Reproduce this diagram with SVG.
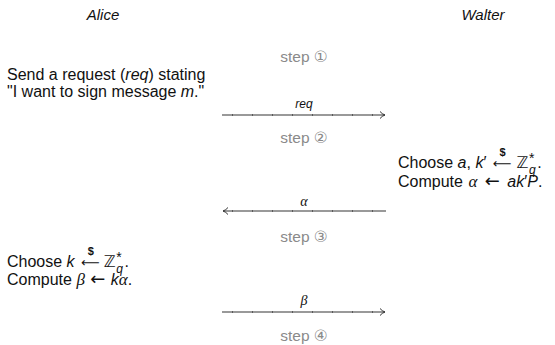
<svg xmlns="http://www.w3.org/2000/svg" width="555" height="345" viewBox="0 0 555 345">
<defs>
<style>
text{font-family:"Liberation Sans","DejaVu Sans",sans-serif;font-size:16px;fill:#111}
.name{font-size:15px;font-style:italic;text-anchor:middle}
.it{font-style:italic}
.gr{font-family:"Liberation Serif","DejaVu Serif",serif;font-style:italic;font-size:17px}
.arr{font-family:"DejaVu Sans",sans-serif;font-size:18px}
.arr2{font-family:"DejaVu Sans",sans-serif;font-size:13px}
.step{fill:#8a8a8a;text-anchor:middle;font-size:15.5px}
.lbl{font-size:12px;text-anchor:middle;font-style:italic}
.msg{stroke:#777;stroke-width:1.3;fill:none}
.tick{stroke:#444;stroke-width:1.3;stroke-dasharray:1 19;fill:none}
.sup{font-size:14px}
.sub{font-size:12px;font-style:italic}
.dol{font-size:11px;font-weight:bold}
</style>
<marker id="ah" markerWidth="10" markerHeight="10" refX="7" refY="5" orient="auto" markerUnits="userSpaceOnUse">
<path d="M2,1.5 Q4,4 7,5 Q4,6 2,8.5" fill="none" stroke="#333" stroke-width="1"/>
</marker>
</defs>
<g id="alice"><text class="name" x="103" y="20">Alice</text></g>
<g id="walter"><text class="name" x="483" y="20">Walter</text></g>
<g id="steps">
<text class="step" x="304" y="62">step ①</text>
<text class="step" x="304" y="143">step ②</text>
<text class="step" x="304" y="242">step ③</text>
<text class="step" x="304" y="341">step ④</text>
</g>
<g id="alice-step1">
<text x="7" y="80">Send a request (<tspan class="it">req</tspan>) stating</text>
<text x="7" y="97">"I want to sign message <tspan class="it">m</tspan>."</text>
</g>
<g id="walter-step2">
<text x="398" y="168">Choose <tspan class="it">a</tspan>, <tspan class="it">k</tspan>′ <tspan class="arr2" dx="2">⟵</tspan><tspan class="dol" dx="-12" dy="-12">$</tspan><tspan dx="11" dy="12">ℤ</tspan><tspan class="sup" dx="0.5" dy="-5">*</tspan><tspan class="sub" dx="-5.4" dy="11">q</tspan><tspan dx="1.5" dy="-6">.</tspan></text>
<text x="398" y="187">Compute <tspan class="gr" dx="1">α</tspan> <tspan class="arr" dx="3">←</tspan> <tspan class="it" dx="3">ak</tspan>′<tspan class="it">P</tspan>.</text>
</g>
<g id="alice-step3">
<text x="7" y="267">Choose <tspan class="it">k</tspan> <tspan class="arr2" dx="2">⟵</tspan><tspan class="dol" dx="-12" dy="-12">$</tspan><tspan dx="10" dy="12">ℤ</tspan><tspan class="sup" dx="0.5" dy="-5">*</tspan><tspan class="sub" dx="-5.4" dy="11">q</tspan><tspan dx="1.5" dy="-6">.</tspan></text>
<text x="7" y="285">Compute <tspan class="gr">β</tspan> <tspan class="arr" dx="1">←</tspan> <tspan class="it" dx="1">k</tspan><tspan class="gr">α</tspan>.</text>
</g>
<g id="connectors">
<text class="lbl" x="304" y="108">req</text>
<line class="msg" x1="222" y1="115" x2="385" y2="115" marker-end="url(#ah)"/>
<line class="tick" x1="232" y1="115" x2="380" y2="115"/>
<text class="lbl gr" x="304" y="206" style="font-size:14px">α</text>
<line class="msg" x1="386" y1="211" x2="223" y2="211" marker-end="url(#ah)"/>
<line class="tick" x1="232" y1="211" x2="380" y2="211"/>
<text class="lbl gr" x="304" y="305" style="font-size:14px">β</text>
<line class="msg" x1="222" y1="312" x2="385" y2="312" marker-end="url(#ah)"/>
<line class="tick" x1="232" y1="312" x2="380" y2="312"/>
</g>
</svg>
